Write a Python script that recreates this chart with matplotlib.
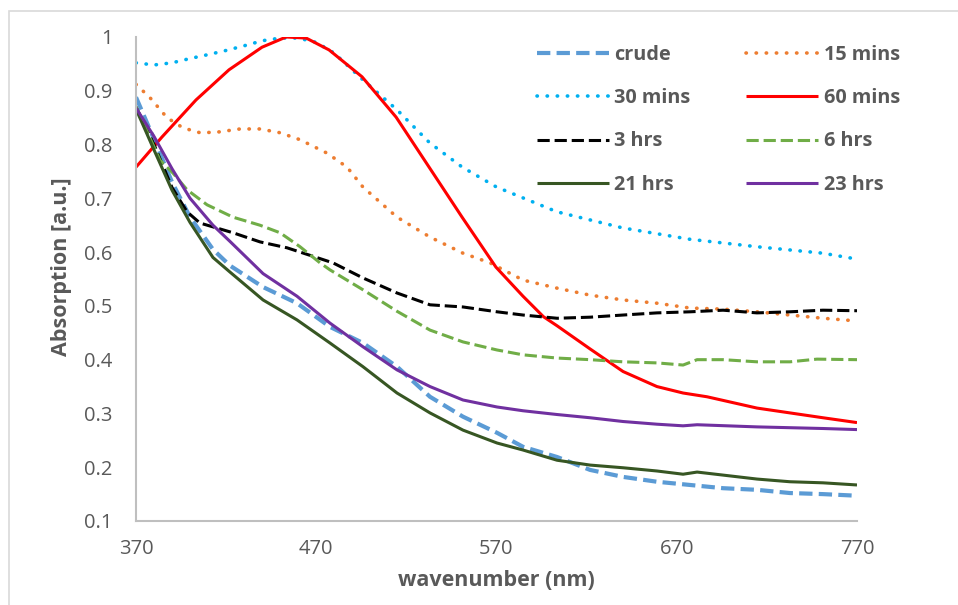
import matplotlib
matplotlib.use("Agg")
import matplotlib.pyplot as plt
from matplotlib.patches import Rectangle
from matplotlib.ticker import FuncFormatter

plt.rcParams['font.family'] = ['Open Sans', 'DejaVu Sans']

# Absorption spectra at different reaction times (wavelength in nm)
crude_x = [370, 380, 390, 400, 412.7, 422.1, 440.5, 459.3, 477.6, 495.9, 514.8, 533.1, 551.4,
           570.3, 584.7, 603.6, 621.9, 640.2, 659, 677.4, 695.7, 714.5, 732.8, 751.1, 770]
crude_y = [0.888, 0.81, 0.73, 0.665, 0.605, 0.575, 0.535, 0.505, 0.461, 0.431, 0.387, 0.331, 0.294,
           0.264, 0.238, 0.219, 0.195, 0.182, 0.173, 0.167, 0.161, 0.158, 0.152, 0.15, 0.147]

m15_x = [370, 377.8, 387.2, 396.1, 405.5, 414.9, 427.7, 438.8, 449.9, 461, 476, 487.1, 495.9, 514.8,
         533.1, 551.4, 566.4, 584.7, 603.6, 621.9, 640.2, 659, 677.4, 695.7, 714.5, 732.8, 751.1, 770]
m15_y = [0.912, 0.887, 0.85, 0.831, 0.822, 0.823, 0.829, 0.829, 0.822, 0.809, 0.784, 0.758, 0.721, 0.665,
         0.628, 0.598, 0.58, 0.548, 0.533, 0.52, 0.511, 0.505, 0.496, 0.494, 0.489, 0.483, 0.477, 0.472]

m30_x = [370, 380, 390, 400, 411, 420, 431.5, 440, 450, 460, 470, 480, 496, 515, 533, 551, 570,
         603.5, 640, 677, 714.5, 751, 770]
m30_y = [0.952, 0.948, 0.952, 0.96, 0.968, 0.975, 0.985, 0.993, 0.998, 0.998, 0.99, 0.97, 0.92, 0.864,
         0.803, 0.758, 0.721, 0.675, 0.645, 0.624, 0.61, 0.598, 0.587]

m60_x = [370, 384.4, 403.3, 421.6, 439.9, 453.3, 464.4, 477.1, 495.4, 514.3, 532.6, 550.9, 569.7,
         584.7, 596, 603.6, 621.9, 640.2, 659, 673.5, 686.8, 714.5, 732.8, 751.1, 770]
m60_y = [0.758, 0.814, 0.883, 0.939, 0.981, 1.0, 0.998, 0.976, 0.926, 0.851, 0.758, 0.665, 0.572,
         0.518, 0.48, 0.463, 0.42, 0.378, 0.35, 0.338, 0.331, 0.31, 0.301, 0.292, 0.283]

h3_x = [370, 380, 390, 398.3, 405.5, 423.8, 438.8, 453.8, 479.3, 495.9, 514.8, 533.1, 551.4, 570.3,
        584.7, 603.6, 621.9, 640.2, 659, 677.4, 695.7, 714.5, 732.8, 751.1, 770]
h3_y = [0.87, 0.8, 0.72, 0.675, 0.654, 0.636, 0.619, 0.608, 0.58, 0.552, 0.524, 0.502, 0.498, 0.489,
        0.483, 0.477, 0.479, 0.483, 0.487, 0.489, 0.492, 0.487, 0.489, 0.492, 0.491]

h6_x = [370, 383.3, 390.5, 398.3, 409.4, 423.8, 438.8, 449.9, 461, 472.1, 477.6, 495.9, 514.8, 533.1,
        551.4, 570.3, 584.7, 603.6, 621.9, 640.2, 659, 673.5, 681.3, 695.7, 714.5, 732.8,
        747.8, 770]
h6_y = [0.87, 0.771, 0.747, 0.716, 0.688, 0.665, 0.65, 0.636, 0.61, 0.58, 0.567, 0.53, 0.49, 0.455,
        0.433, 0.418, 0.409, 0.403, 0.4, 0.396, 0.394, 0.39, 0.4, 0.4, 0.396, 0.396, 0.401, 0.4]

h21_x = [370, 380, 390, 400, 412.7, 422.1, 440.5, 459.3, 477.6, 495.9, 514.8, 533.1, 551.4, 570.3,
         584.7, 603.6, 621.9, 640.2, 659, 673.5, 681.3, 714.5, 732.8, 751.1, 770]
h21_y = [0.866, 0.79, 0.715, 0.655, 0.59, 0.563, 0.511, 0.474, 0.431, 0.387, 0.338, 0.301, 0.269, 0.245,
         0.232, 0.213, 0.204, 0.199, 0.193, 0.187, 0.191, 0.178, 0.173, 0.171, 0.167]

h23_x = [370, 380, 390, 400, 412.7, 422.1, 440.5, 459.3, 477.6, 495.9, 514.8, 533.1,
         551.4, 570.3, 584.7, 603.6, 621.9, 640.2, 659, 673.5, 681.3, 714.5, 751.1, 770]
h23_y = [0.868, 0.815, 0.755, 0.70, 0.65, 0.62, 0.56, 0.518, 0.468, 0.424, 0.381, 0.35,
         0.325, 0.312, 0.305, 0.298, 0.292, 0.285, 0.28, 0.277, 0.279, 0.275, 0.272, 0.27]

dash = (0, (3.2, 1.5))
dot = (0, (0.1, 2.7))
series = [
    ("crude", crude_x, crude_y, dict(color="#5B9BD5", lw=3.0, ls=dash)),
    ("15 mins", m15_x, m15_y, dict(color="#ED7D31", lw=2.6, ls=dot, dash_capstyle="round")),
    ("30 mins", m30_x, m30_y, dict(color="#00B0F0", lw=2.6, ls=dot, dash_capstyle="round")),
    ("60 mins", m60_x, m60_y, dict(color="#FF0000", lw=2.2, ls="-")),
    ("3 hrs", h3_x, h3_y, dict(color="#000000", lw=2.2, ls=(0, (4, 1.6)))),
    ("6 hrs", h6_x, h6_y, dict(color="#70AD47", lw=2.2, ls=(0, (4, 1.6)))),
    ("21 hrs", h21_x, h21_y, dict(color="#375623", lw=2.2, ls="-")),
    ("23 hrs", h23_x, h23_y, dict(color="#7030A0", lw=2.2, ls="-")),
]

fig = plt.figure(figsize=(9.58, 6.05), dpi=100)
fig.patch.set_facecolor("white")

# chart frame
fig.patches.append(Rectangle((9 / 958, -0.1), 1.2, 1.1 - 11 / 605, transform=fig.transFigure,
                             fill=False, edgecolor="#D9D9D9", lw=1.2, zorder=0))

ax = fig.add_axes([136 / 958, 1 - 521 / 605, (857 - 136) / 958, (521 - 37) / 605])

handles = {}
for name, xs, ys, style in series:
    handles[name], = ax.plot(xs, ys, label=name, solid_capstyle="butt", **style)

ax.set_xlim(370, 770)
ax.set_ylim(0.1, 1.0)
ax.set_xticks([370, 470, 570, 670, 770])
ax.set_yticks([0.1, 0.2, 0.3, 0.4, 0.5, 0.6, 0.7, 0.8, 0.9, 1.0])
ax.yaxis.set_major_formatter(FuncFormatter(lambda v, p: f"{v:g}"))

for s in ["top", "right"]:
    ax.spines[s].set_visible(False)
for s in ["left", "bottom"]:
    ax.spines[s].set_color("#BFBFBF")
    ax.spines[s].set_linewidth(1.5)

ax.tick_params(axis="both", length=0, labelsize=14.5, labelcolor="#595959")
ax.tick_params(axis="y", pad=17)
ax.tick_params(axis="x", pad=13)

ax.set_xlabel("wavenumber (nm)", fontsize=15.5, fontweight="bold", color="#595959", labelpad=8)
ax.set_ylabel("Absorption [a.u.]", fontsize=15.5, fontweight="bold", color="#595959")
ax.yaxis.set_label_coords((72 - 136) / 721, (521 - 267) / 484)

# legend laid out row by row: two entries per row
order = ["crude", "30 mins", "3 hrs", "21 hrs", "15 mins", "60 mins", "6 hrs", "23 hrs"]
leg = ax.legend([handles[n] for n in order], order, ncol=2, loc="upper left",
                bbox_to_anchor=((537 - 136) / 721, (521 - 45) / 484),
                frameon=False, fontsize=14.3, handlelength=3.6, handletextpad=0.3,
                columnspacing=2.8, labelspacing=1.17, borderpad=0, borderaxespad=0)
for t in leg.get_texts():
    t.set_color("#595959")
    t.set_fontweight("bold")

fig.savefig("out.png", dpi=100, facecolor="white")
